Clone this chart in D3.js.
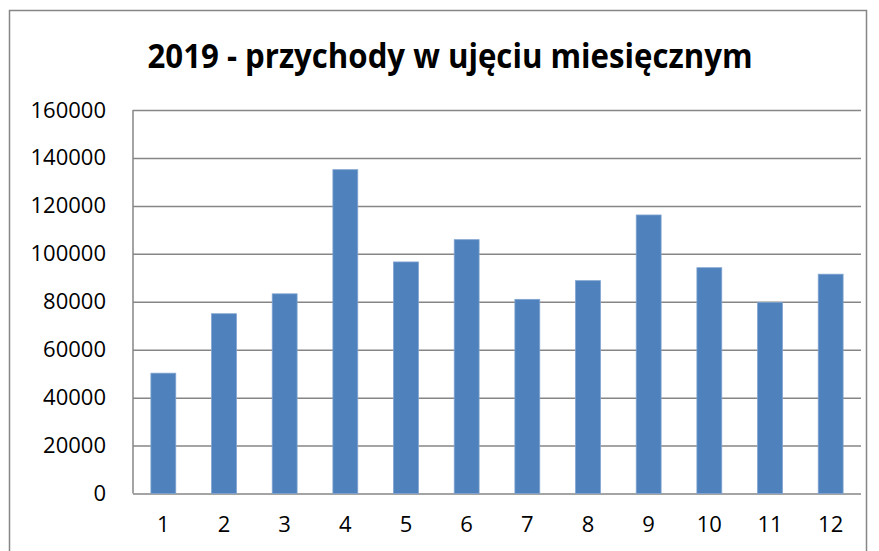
<!DOCTYPE html>
<html>
<head>
<meta charset="utf-8">
<script src="https://cdn.jsdelivr.net/npm/d3@7"></script>
<style>
  body { margin: 0; background: #fff; }
  svg { display: block; }
</style>
</head>
<body>
<svg id="chart" width="879" height="551"></svg>
<script>
var months = ["1","2","3","4","5","6","7","8","9","10","11","12"];
var revenue = [50200, 75000, 83300, 135100, 96600, 105900, 81000, 88800, 116200, 94200, 79700, 91500];
var yTicks = [0, 20000, 40000, 60000, 80000, 100000, 120000, 140000, 160000];
var title = "2019 - przychody w ujęciu miesięcznym";

var svg = d3.select("#chart");
var m = {left: 133, right: 861, top: 110, bottom: 493.5};

// outer frame
svg.append("path")
  .attr("d", "M9.5,560 V10.5 H866.5 V560")
  .attr("fill", "none")
  .attr("stroke", "#868686")
  .attr("stroke-width", 1.5);

svg.append("text")
  .attr("x", 450).attr("y", 68)
  .attr("text-anchor", "middle")
  .attr("font-family", "'Open Sans', sans-serif")
  .attr("font-weight", "bold")
  .attr("font-size", 34)
  .attr("textLength", 605)
  .attr("lengthAdjust", "spacingAndGlyphs")
  .attr("fill", "#000")
  .text(title);

var x = d3.scaleBand().domain(months).range([m.left, m.right]).paddingInner(0.59).paddingOuter(0.295);
var y = d3.scaleLinear().domain([0, 160000]).range([m.bottom, m.top]);

// gridlines
svg.append("g")
  .attr("transform", "translate(" + m.left + ",0)")
  .call(d3.axisLeft(y).tickValues(yTicks).tickSize(-(m.right - m.left)).tickFormat(""))
  .call(function(g){
    g.select(".domain").remove();
    g.selectAll("line").attr("stroke", "#868686").attr("stroke-width", 1.5);
  });

// y labels
svg.append("g")
  .attr("transform", "translate(" + 106 + ",0)")
  .call(d3.axisLeft(y).tickValues(yTicks).tickSize(0).tickPadding(0).tickFormat(d3.format("d")))
  .call(function(g){
    g.select(".domain").remove();
    g.selectAll("text")
      .attr("font-family", "'Open Sans', sans-serif")
      .attr("font-size", 22)
      .attr("fill", "#000");
  });

// bars
svg.append("g").selectAll("rect")
  .data(revenue)
  .join("rect")
  .attr("x", function(d, i){ return x(months[i]); })
  .attr("y", function(d){ return y(d); })
  .attr("width", x.bandwidth())
  .attr("height", function(d){ return y(0) - y(d); })
  .attr("fill", "#4F81BD")
  .attr("stroke", "#7FA3D0")
  .attr("stroke-width", 0.8);

// left axis line
svg.append("line")
  .attr("x1", m.left).attr("x2", m.left)
  .attr("y1", m.top).attr("y2", m.bottom)
  .attr("stroke", "#868686").attr("stroke-width", 1.5);

// x labels
svg.append("g")
  .attr("transform", "translate(0," + m.bottom + ")")
  .call(d3.axisBottom(x).tickSize(0).tickPadding(23))
  .call(function(g){
    g.select(".domain").remove();
    g.selectAll("text")
      .attr("font-family", "'Open Sans', sans-serif")
      .attr("font-size", 22)
      .attr("fill", "#000");
  });
</script>
</body>
</html>
